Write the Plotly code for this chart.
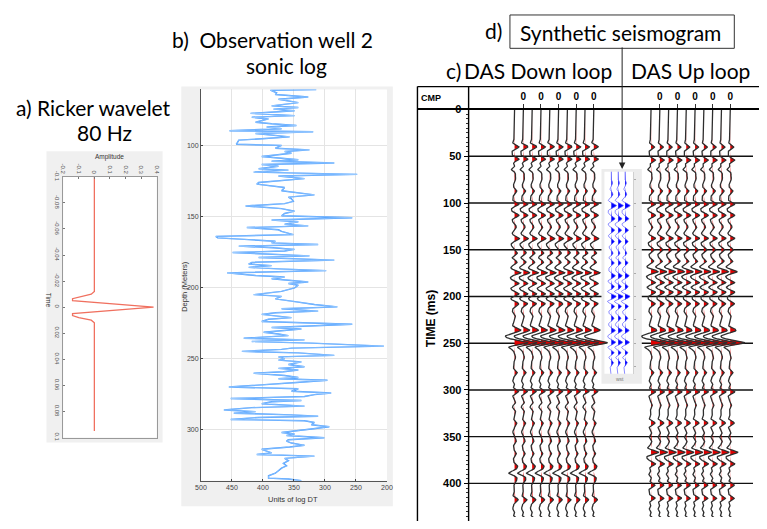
import numpy as np
import plotly.graph_objects as go

# The page keeps the browser's 8px body margin, so the figure is sized to fill
# the remaining 751x513 area; coordinates below are in reference-image pixels.
OFF = 8
FW, FH = 767 - 2 * OFF, 529 - 2 * OFF


def px(x):
    return (x - OFF) / FW


def py(y):
    return 1 - (y - OFF) / FH


# ---------------- DATA ----------------
ricker_time = [-0.1, -0.012, -0.010, -0.008, -0.0065, -0.005, 0.0, 0.005, 0.0065, 0.008, 0.010, 0.012, 0.095]
ricker_amp = [0.0, 0.0, -0.02, -0.10, -0.14, -0.14, 0.38, -0.14, -0.14, -0.10, -0.02, 0.0, 0.0]
amp_ticks = [-0.2, -0.1, 0, 0.1, 0.2, 0.3, 0.4]
amp_labels = ["-0.2", "-0.1", "0", "0.1", "0.2", "0.3", "0.4"]
rtime_ticks = [-0.1, -0.08, -0.06, -0.04, -0.02, 0, 0.02, 0.04, 0.06, 0.08, 0.1]
rtime_labels = ["-0.1", "-0.08", "-0.06", "-0.04", "-0.02", "0", "0.02", "0.04", "0.06", "0.08", "0.1"]

sonic_depth = [60.5, 61.0, 62.8, 64.0, 65.8, 67.4, 69.7, 70.9, 72.0, 73.2, 74.3, 75.5, 77.3, 78.9, 80.0,
               81.2, 82.3, 83.5, 84.6, 85.8, 86.9, 88.1, 89.5, 90.2, 91.5, 92.7, 93.8, 95.0, 96.1, 97.7,
               99.0, 99.8, 101.8, 103.0, 104.1, 105.3, 107.6, 109.9, 111.0, 112.2, 113.3, 114.5, 116.3,
               117.2, 118.6, 120.2, 121.3, 123.2, 124.8, 125.9, 127.1, 128.2, 129.4, 131.7, 134.6, 136.2,
               137.4, 139.2, 140.8, 142.4, 144.3, 146.1, 147.7, 149.3, 150.7, 152.3, 153.5, 155.3, 156.4,
               157.6, 159.2, 160.3, 162.6, 163.8, 164.9, 166.1, 167.2, 168.4, 169.5, 170.7, 171.8, 173.0,
               174.1, 175.2, 176.4, 177.5, 178.7, 180.5, 182.1, 183.3, 184.4, 185.6, 186.7, 187.9, 189.5,
               191.3, 192.4, 193.6, 195.9, 197.0, 198.2, 200.0,
               202.5, 204.8, 206.0, 207.8, 209.4, 211.7, 213.4, 214.7, 216.4, 217.5, 218.7, 221.0, 222.1,
               223.7, 225.6, 227.9, 229.0, 231.3, 232.5, 233.6, 235.5, 236.6, 237.8, 238.9, 241.0, 242.4,
               243.3, 244.7, 245.8, 247.5, 248.6, 250.0, 250.9, 252.1, 253.9, 255.5, 256.7, 257.8, 259.0,
               260.1, 261.7, 263.1, 264.0, 265.0, 266.6, 267.7, 269.8, 271.0, 272.8, 274.0, 275.1, 276.5,
               277.9, 279.3, 280.2, 281.6, 283.2, 284.3, 286.0, 287.1, 288.2, 289.4, 290.3, 291.2, 292.6,
               293.5, 294.7, 296.3, 297.7, 299.3, 300.9, 301.8, 302.8, 303.9, 305.5, 306.9, 307.8, 309.2,
               310.8, 312.0, 313.6, 314.7, 316.1, 317.3, 318.4, 320.0, 321.6, 323.5, 325.3, 326.9, 328.6,
               330.4, 332.2, 333.9, 334.5, 335.7]
sonic_dt = [314, 388, 378, 380, 327, 375, 343, 370, 386, 343, 383, 349, 420, 349, 418,
            391, 404, 412, 386, 346, 394, 370, 454, 319, 412, 386, 357, 396, 439, 441,
            443, 370, 380, 325, 365, 354, 402, 343, 386, 285, 402, 375, 407,
            359, 415, 248, 375, 333, 370, 407, 410, 386, 365, 370, 317, 359,
            354, 351, 365, 428, 370, 349, 365, 370, 256, 386, 343, 365, 327,
            426, 375, 370, 351, 476, 473, 423, 380, 386, 311, 439, 383, 349,
            365, 449, 396, 325, 407, 285, 418, 423, 386, 423, 375, 298, 458,
            412, 365, 386, 327, 359, 343, 349,
            370, 415, 370, 380, 354, 317, 280, 370, 311, 380, 402, 354, 391,
            402, 256, 386, 338, 399, 375, 359, 431, 333, 418, 322, 205, 354,
            370, 434, 343, 285, 375, 365, 375, 338, 359, 333, 375, 343, 367,
            415, 365, 343, 375, 296, 346, 386, 455, 343, 354, 290, 317, 333,
            452, 338, 386, 402, 333, 418, 463, 412, 447, 354, 311, 407, 452,
            333, 317, 322, 293, 322, 359, 370, 349, 362, 301, 359, 362, 354,
            333, 357, 402, 396, 386, 410, 317, 365, 359, 367, 362, 370, 375,
            380, 391, 391, 359, 338]
dt_ticks = [500, 450, 400, 350, 300, 250, 200]
depth_ticks = [100, 150, 200, 250, 300]

down_t = [39.7, 53.0, 64.0, 74.0, 86.9, 101.0, 113.1, 125.4, 137.7, 145.0, 153.4, 163.2, 174.4, 186.0,
          197.0, 207.6, 216.0, 235.6, 242.0, 249.5, 265.0, 281.0, 290.0, 301.4, 318.0, 335.3, 345.0,
          354.5, 367.8, 381.0, 389.0, 397.0, 417.4, 427.0, 438.4]
down_a = [0.5, 0.5, -0.35, 0.12, 0.25, 0.5, 0.5, 0.2, 0.5, -0.25, 0.3, 0.3, 0.7, 0.5,
          0.5, 0.45, -0.2, 0.5, -0.6, 1.45, 0.12, 0.3, -0.2, 0.45, -0.25, 0.25, -0.2,
          0.2, 0.2, 0.25, -0.6, 0.15, 0.4, -0.2, 0.4]
up_t = [39.7, 53.7, 64.0, 74.0, 86.9, 101.0, 113.1, 125.4, 137.7, 149.8, 162.1, 173.3, 184.9, 195.4,
        207.6, 216.0, 235.6, 242.0, 249.5, 265.0, 281.0, 290.0, 302.0, 316.0, 335.3, 350.0, 366.7,
        379.0, 390.0, 401.7, 415.7, 427.0, 438.4]
up_a = [0.4, 0.5, -0.35, 0.12, 0.3, 0.5, 0.5, 0.2, 0.5, 0.35, 0.3, 0.8, 0.5, 0.5,
        0.45, -0.2, 0.45, -0.6, 1.55, 0.12, 0.3, -0.2, 0.5, 0.15, 0.45, -0.2, 0.85,
        0.5, -0.25, 0.45, 0.45, -0.2, 0.4]
n_traces = 10
time_ticks = [0, 50, 100, 150, 200, 250, 300, 350, 400]

synth_t = [78.2, 90.4, 102.6, 116.7, 128.9, 141.1, 153.4, 163.9, 177.9, 189.4, 199.9, 210.4, 223.3,
           236.3, 248.9, 260.0, 270.5]
synth_a = [0.2, 0.25, 0.75, 0.55, 0.5, 0.45, 0.3, 0.45, 0.6, 0.5, 0.75, 0.5, 0.4, 0.6, 0.65, 0.45, 0.35]
n_synth = 3

# ---------------- FIGURE ----------------
fig = go.Figure()

fig.add_trace(go.Scatter(x=ricker_amp, y=ricker_time, mode="lines",
                         line=dict(color="#f0705f", width=1.3), xaxis="x", yaxis="y",
                         showlegend=False, hoverinfo="skip"))

fig.add_trace(go.Scatter(x=sonic_dt, y=sonic_depth, mode="lines",
                         line=dict(color="#3a94ff", width=1.4), xaxis="x2", yaxis="y2",
                         showlegend=False, hoverinfo="skip"))
fig.add_trace(go.Scatter(x=sonic_dt, y=sonic_depth, mode="lines",
                         line=dict(color="#c4e2ff", width=0.5), xaxis="x2", yaxis="y2",
                         showlegend=False, hoverinfo="skip"))

tt = np.arange(0, 444.5, 0.5)


def ricker(t_ms, f=80.0):
    arg = (np.pi * f * t_ms / 1000.0) ** 2
    return (1 - 2 * arg) * np.exp(-arg)


def wiggle(times, amps):
    w = np.zeros_like(tt)
    for t0, a in zip(times, amps):
        w += a * ricker(tt - t0)
    return w


w_down = wiggle(down_t, down_a)
w_up = wiggle(up_t, up_a)

up_offset = 15.5
positions = []
for k in range(n_traces):
    positions.append((k + 1, w_down))
for k in range(n_traces):
    positions.append((k + 1 + up_offset, w_up))

line_x, line_y = [], []
for pos, w in positions:
    fx = np.concatenate([pos + np.clip(w, 0, None), np.full(len(tt), pos)])
    fy = np.concatenate([tt, tt[::-1]])
    fig.add_trace(go.Scatter(x=fx, y=fy, mode="lines", fill="toself", fillcolor="#e00000",
                             line=dict(width=0, color="#e00000"), xaxis="x3", yaxis="y3",
                             showlegend=False, hoverinfo="skip"))
    line_x += list(pos + w) + [None]
    line_y += list(tt) + [None]
fig.add_trace(go.Scatter(x=line_x, y=line_y, mode="lines", line=dict(color="#2e2e2e", width=1.3),
                         xaxis="x3", yaxis="y3", showlegend=False, hoverinfo="skip", connectgaps=False))

ts = np.arange(60, 290, 0.5)
ws = np.zeros_like(ts)
for t0, a in zip(synth_t, synth_a):
    ws += a * ricker(ts - t0, 70.0)
sx, sy = [], []
for k in range(n_synth):
    pos = k + 1
    fx = np.concatenate([pos + np.clip(ws, 0, None), np.full(len(ts), pos)])
    fy = np.concatenate([ts, ts[::-1]])
    fig.add_trace(go.Scatter(x=fx, y=fy, mode="lines", fill="toself", fillcolor="#0000ff",
                             line=dict(width=0, color="#0000ff"), xaxis="x4", yaxis="y4",
                             showlegend=False, hoverinfo="skip"))
    sx += list(pos + ws) + [None]
    sy += list(ts) + [None]
fig.add_trace(go.Scatter(x=sx, y=sy, mode="lines", line=dict(color="#5a5aff", width=0.7),
                         xaxis="x4", yaxis="y4", showlegend=False, hoverinfo="skip"))

# ---------------- AXES ----------------
small = dict(family="Liberation Sans", size=6, color="#555555")
sonic_font = dict(family="Liberation Sans", size=7, color="#444444")
bold = dict(family="Liberation Sans", size=11, color="black", weight="bold")

slot = 8.947            # px per trace slot, trace 1 at x=516.7
ms_px = 0.953           # px per ms, 0 ms at y=105.5
right_edge = OFF + FW
bottom_edge = OFF + FH
x3_range = [1 - (516.7 - 470) / slot, 1 + (right_edge - 516.7) / slot]
y3_bottom = (bottom_edge - 105.5) / ms_px
label_pos = [k + 1 for k in range(n_traces) if k % 2 == 1] + \
            [k + 1 + up_offset for k in range(n_traces) if k % 2 == 1]

fig.update_layout(
    width=FW, height=FH, margin=dict(l=0, r=0, t=0, b=0),
    paper_bgcolor="white", plot_bgcolor="rgba(0,0,0,0)",
    showlegend=False,
    xaxis=dict(domain=[px(58), px(153)], range=[-0.2, 0.4], side="top", anchor="y",
               tickvals=amp_ticks, ticktext=amp_labels, tickangle=90, tickfont=small,
               ticks="inside", ticklen=2, tickcolor="#777", showline=True, linecolor="#999",
               linewidth=0.8, mirror=True, showgrid=False, zeroline=False, fixedrange=True),
    yaxis=dict(domain=[py(440), py(174)], range=[0.1, -0.1], anchor="x",
               tickvals=rtime_ticks, ticktext=rtime_labels, tickangle=90, tickfont=small,
               ticks="inside", ticklen=2, tickcolor="#777", showline=True, linecolor="#999",
               linewidth=0.8, mirror=True, showgrid=False, zeroline=False, fixedrange=True),
    xaxis2=dict(domain=[px(198), px(387)], range=[500, 200], anchor="y2",
                tickvals=dt_ticks, tickfont=sonic_font, ticks="inside", ticklen=2,
                tickcolor="#444", showline=True, linecolor="#555", linewidth=1,
                showgrid=True, gridcolor="#e4e4e4", gridwidth=1, zeroline=False, fixedrange=True),
    yaxis2=dict(domain=[py(484), py(85)], range=[335.7, 60.5], anchor="x2",
                tickvals=depth_ticks, tickfont=sonic_font, ticks="inside", ticklen=2,
                tickcolor="#444", showline=True, linecolor="#555", linewidth=1,
                showgrid=True, gridcolor="#e4e4e4", gridwidth=1, zeroline=False, fixedrange=True),
    xaxis3=dict(domain=[px(470), 1], range=x3_range, anchor="y3", side="top",
                tickvals=label_pos, ticktext=["0"] * len(label_pos),
                tickfont=dict(family="Liberation Sans", size=10, color="black", weight="bold"),
                ticks="outside", ticklen=5, tickcolor="#333", showline=False, showgrid=False,
                zeroline=False, fixedrange=True),
    yaxis3=dict(domain=[0, py(105.5)], range=[y3_bottom, 0], anchor="x3",
                tickvals=time_ticks, tickfont=bold, ticks="outside", ticklen=4, tickcolor="black",
                minor=dict(dtick=5, ticks="outside", ticklen=2, tickcolor="#333"),
                showline=False, showgrid=False, zeroline=False, fixedrange=True),
    xaxis4=dict(domain=[px(608), px(637)], range=[0, 4.14], anchor="y4", visible=False,
                fixedrange=True),
    yaxis4=dict(domain=[py(375), py(169)], range=[282.8, 66.6], anchor="x4", side="right",
                showticklabels=False, ticks="outside", ticklen=2, tickcolor="#aaaaaa",
                dtick=25, showline=True, linecolor="#d0d0d0", showgrid=False, zeroline=False,
                fixedrange=True),
)

# ---------------- SHAPES ----------------
shapes = []


def rect(x0, y0, x1, y1, fill, layer="below", line=None):
    shapes.append(dict(type="rect", xref="paper", yref="paper", x0=px(x0), x1=px(x1),
                       y0=py(y1), y1=py(y0), fillcolor=fill, layer=layer,
                       line=line or dict(width=0)))


def hline(y, x0, x1, width=1, color="black", layer="above"):
    shapes.append(dict(type="line", xref="paper", yref="paper", x0=px(x0), x1=px(x1),
                       y0=py(y), y1=py(y), line=dict(color=color, width=width), layer=layer))


def vline(x, y0, y1, width=1, color="black", layer="above"):
    shapes.append(dict(type="line", xref="paper", yref="paper", x0=px(x), x1=px(x),
                       y0=py(y0), y1=py(y1), line=dict(color=color, width=width), layer=layer))


rect(41, 148, 159, 445, "#f0f0f0")
rect(58, 174, 153, 440, "white")
rect(178, 82, 393, 510, "#f0f0f0")
rect(198, 85, 387, 484, "white")

for tv in time_ticks[1:]:
    shapes.append(dict(type="line", xref="paper", yref="y3", x0=px(470), x1=1, y0=tv, y1=tv,
                       line=dict(color="#111111", width=1.4), layer="below"))

rect(605, 166, 646, 385, "#ececec")
rect(608, 169, 637, 375, "white")

hline(82, 418, 767, 1.2)
hline(105, 418, 767, 2)
vline(418, 82, 529, 1.4)
vline(470, 82, 529, 1.4)
rect(512, 9, 740, 43, "rgba(0,0,0,0)", layer="above", line=dict(color="#333333", width=1))

fig.update_layout(shapes=shapes)

# ---------------- TEXT ----------------
ann = []
title_font = dict(family="Lato", size=21, color="black")


def text(x, y, s, font, angle=0, xanchor="center"):
    ann.append(dict(x=px(x), y=py(y), xref="paper", yref="paper", text=s, showarrow=False,
                    font=font, textangle=angle, xanchor=xanchor, yanchor="middle"))


text(89, 103, "a) Ricker wavelet", title_font)
text(100, 129, "80 Hz", title_font)
text(271, 34, "b)\u00a0 Observation well 2", title_font)
text(285, 61, "sonic log", title_font)
text(495, 25, "d)", title_font)
text(624, 27, "Synthetic seismogram", title_font)
text(455, 66, "c)", title_font)
text(541, 66, "DAS Down loop", title_font)
text(695, 66, "DAS Up loop", title_font)

text(105, 154, "Amplitude", dict(family="Liberation Sans", size=6.5, color="#333"))
text(43, 300, "Time", dict(family="Liberation Sans", size=6.5, color="#333"), angle=90)
text(292, 503, "Units of log DT", dict(family="Liberation Sans", size=7.5, color="#333"))
text(181, 286, "Depth (Meters)", dict(family="Liberation Sans", size=7.5, color="#333"), angle=-90)
text(432, 94, "CMP", dict(family="Liberation Sans", size=9, color="black", weight="bold"))
text(432, 319, "TIME (ms)", dict(family="Liberation Sans", size=12, color="black", weight="bold"),
     angle=-90)
text(624, 380, "wst", dict(family="Liberation Sans", size=5, color="#777"))

ann.append(dict(x=px(626), y=py(166), xref="paper", yref="paper", ax=0, ay=-123,
                axref="pixel", ayref="pixel", text="", showarrow=True, arrowhead=2,
                arrowsize=1.3, arrowwidth=1, arrowcolor="#222222", standoff=0))

fig.update_layout(annotations=ann)

fig.write_html("out.html", config={"displayModeBar": False})
